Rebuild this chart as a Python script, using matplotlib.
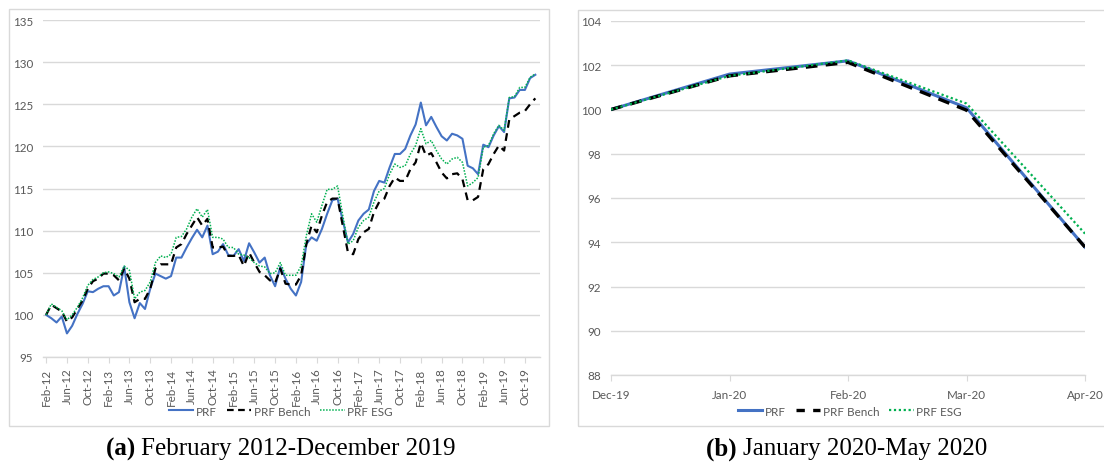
import matplotlib
matplotlib.use("Agg")
import matplotlib.pyplot as plt
from matplotlib.patches import Rectangle
from matplotlib.lines import Line2D

# ---------------- data ----------------
tick_labels_a = ["Feb-12", "Jun-12", "Oct-12", "Feb-13", "Jun-13", "Oct-13", "Feb-14", "Jun-14",
                 "Oct-14", "Feb-15", "Jun-15", "Oct-15", "Feb-16", "Jun-16", "Oct-16", "Feb-17",
                 "Jun-17", "Oct-17", "Feb-18", "Jun-18", "Oct-18", "Feb-19", "Jun-19", "Oct-19"]

prf_a = [100.0, 99.6, 99.1, 99.8, 97.8, 98.7, 100.1, 101.3, 102.8, 102.7, 103.1, 103.4,
         103.4, 102.3, 102.7, 105.7, 101.5, 99.6, 101.4, 100.7, 103.1, 104.9, 104.6, 104.3,
         104.6, 106.8, 106.8, 108.0, 109.1, 110.1, 109.2, 110.6, 107.2, 107.5, 108.4, 107.1,
         107.0, 107.8, 106.4, 108.5, 107.4, 106.2, 106.8, 104.7, 103.4, 105.7, 104.3, 103.1,
         102.3, 103.9, 108.4, 109.2, 108.8, 110.2, 112.0, 113.6, 113.8, 111.2, 108.6, 109.6,
         111.2, 112.0, 112.5, 114.7, 115.9, 115.7, 117.5, 119.1, 119.1, 119.7, 121.3, 122.6,
         125.2, 122.5, 123.5, 122.3, 121.2, 120.7, 121.5, 121.3, 120.9, 117.7, 117.4, 116.7,
         120.2, 119.9, 121.3, 122.4, 121.7, 125.7, 125.8, 126.7, 126.7, 128.1, 128.5]

bench_a = [100.0, 101.2, 100.8, 100.4, 99.2, 99.7, 100.7, 101.7, 103.1, 104.0, 104.3, 104.9,
           104.9, 104.7, 104.1, 105.5, 104.3, 101.5, 101.9, 101.9, 103.1, 105.5, 106.0, 106.0,
           106.0, 108.0, 108.4, 109.6, 110.6, 111.6, 110.6, 111.4, 108.0, 108.0, 108.1, 107.0,
           107.0, 107.1, 105.8, 107.4, 106.2, 105.1, 104.7, 104.1, 103.8, 105.5, 103.7, 103.6,
           103.6, 104.7, 108.4, 110.6, 109.8, 111.8, 113.4, 113.8, 113.8, 110.6, 107.4, 107.2,
           109.0, 109.8, 110.2, 112.2, 113.4, 113.8, 115.3, 116.3, 115.9, 115.9, 117.3, 118.1,
           120.4, 118.9, 119.2, 118.1, 116.9, 116.2, 116.7, 116.8, 116.1, 113.6, 113.6, 114.0,
           117.3, 117.9, 119.1, 120.1, 119.5, 123.2, 123.6, 124.0, 124.2, 125.0, 125.7]

esg_a = [100.0, 101.3, 100.9, 100.5, 99.4, 100.0, 100.9, 102.0, 103.5, 104.2, 104.5, 105.0,
         105.1, 104.9, 104.5, 105.8, 105.3, 101.9, 102.7, 102.9, 103.9, 106.2, 107.0, 106.8,
         107.2, 109.2, 109.3, 110.2, 111.6, 112.6, 111.6, 112.5, 109.2, 109.2, 109.0, 108.0,
         108.0, 107.2, 107.1, 106.8, 106.2, 105.8, 105.7, 104.9, 105.0, 106.2, 104.7, 104.7,
         104.7, 105.8, 109.4, 112.0, 111.0, 113.0, 114.9, 114.9, 115.3, 111.8, 108.4, 108.8,
         110.4, 111.2, 111.6, 113.4, 114.7, 115.0, 116.7, 117.9, 117.5, 117.7, 119.1, 120.1,
         122.1, 120.3, 120.7, 119.5, 118.5, 117.9, 118.5, 118.7, 118.1, 115.3, 115.7, 116.3,
         119.9, 120.1, 121.5, 122.5, 121.9, 125.8, 125.9, 127.0, 127.0, 128.2, 128.6]

months_b = ["Dec-19", "Jan-20", "Feb-20", "Mar-20", "Apr-20"]
prf_b = [100.0, 101.6, 102.2, 100.08, 93.78]
bench_b = [100.0, 101.52, 102.13, 99.97, 93.78]
esg_b = [100.0, 101.52, 102.22, 100.27, 94.39]

series_names = ["PRF", "PRF Bench", "PRF ESG"]
caption_a = ("(a)", "February 2012-December 2019")
caption_b = ("(b)", "January 2020-May 2020")

# ---------------- style ----------------
W, H = 1104, 464
BLUE = "#4472C4"
GREEN = "#00B050"
BLACK = "#000000"
GRID = "#D9D9D9"
TXT = "#595959"
FONT = "Lato"
FS = 8.4

fig = plt.figure(figsize=(W / 100, H / 100), dpi=100)
fig.patch.set_facecolor("white")


def px_axes(x0, y0, x1, y1):
    return fig.add_axes([x0 / W, 1 - y1 / H, (x1 - x0) / W, (y1 - y0) / H])


# panel frames
for (x0, y0, x1, y1) in [(9, 10, 549, 427), (578, 11, 1110, 427)]:
    fig.add_artist(Rectangle((x0 / W, 1 - y1 / H), (x1 - x0) / W, (y1 - y0) / H,
                             transform=fig.transFigure, fill=False,
                             edgecolor=GRID, linewidth=1.0))


def style_axes(ax):
    for s in ["top", "right", "left"]:
        ax.spines[s].set_visible(False)
    ax.spines["bottom"].set_color(GRID)
    ax.spines["bottom"].set_linewidth(1.0)
    ax.yaxis.grid(True, color=GRID, linewidth=1.0)
    ax.set_axisbelow(True)
    ax.tick_params(axis="y", length=0, labelsize=FS, labelcolor=TXT, pad=7)
    ax.tick_params(axis="x", length=4, color=GRID, labelsize=FS, labelcolor=TXT)
    for lab in ax.get_xticklabels() + ax.get_yticklabels():
        lab.set_fontfamily(FONT)


def make_legend(center_x, handles):
    leg = fig.legend(handles=handles, labels=series_names, loc="center",
                     bbox_to_anchor=(center_x / W, 1 - 412 / H),
                     ncol=3, frameon=False, handlelength=2.1, handletextpad=0.25,
                     columnspacing=0.8, prop={"family": FONT, "size": FS})
    for t in leg.get_texts():
        t.set_color(TXT)
    return leg


# ---------------- panel (a) ----------------
axa = px_axes(43, 21, 540, 358)
xa = list(range(len(prf_a)))
axa.plot(xa, prf_a, color=BLUE, lw=1.5, zorder=3)
axa.plot(xa, bench_a, color=BLACK, lw=1.6, ls=(0, (3.5, 2.5)), zorder=4)
axa.plot(xa, esg_a, color=GREEN, lw=1.1, ls=(0, (1, 1)), zorder=5)
axa.set_ylim(95, 135)
axa.set_yticks(range(95, 136, 5))
axa.set_xlim(-0.6, 94.9)
axa.set_xticks(range(0, 4 * len(tick_labels_a), 4))
axa.set_xticklabels(tick_labels_a, rotation=90)
style_axes(axa)
make_legend(281, [Line2D([], [], color=BLUE, lw=1.5),
                  Line2D([], [], color=BLACK, lw=1.6, ls=(0, (3, 2))),
                  Line2D([], [], color=GREEN, lw=1.1, ls=(0, (1, 1)))])

# ---------------- panel (b) ----------------
axb = px_axes(611, 22, 1085, 376)
xb = list(range(len(prf_b)))
axb.plot(xb, prf_b, color=BLUE, lw=2.2, zorder=3)
axb.plot(xb, bench_b, color=BLACK, lw=2.4, ls=(0, (3.5, 2.5)), zorder=4)
axb.plot(xb, esg_b, color=GREEN, lw=1.6, ls=(0, (1, 1.2)), zorder=5)
axb.set_ylim(88, 104)
axb.set_yticks(range(88, 105, 2))
axb.set_xlim(0, len(xb) - 1)
axb.set_xticks(xb)
axb.set_xticklabels(months_b)
style_axes(axb)
axb.tick_params(axis="x", pad=6)
make_legend(850, [Line2D([], [], color=BLUE, lw=2.2),
                  Line2D([], [], color=BLACK, lw=2.4, ls=(0, (2.5, 2.5))),
                  Line2D([], [], color=GREEN, lw=1.6, ls=(0, (1, 1.2)))])

# ---------------- captions ----------------
CAP_FS = 18
for (bold, rest), cx in [(caption_a, 281), (caption_b, 847)]:
    t1 = fig.text(0, 0, bold + " ", fontsize=CAP_FS, family="Liberation Serif", weight="bold")
    t2 = fig.text(0, 0, rest, fontsize=CAP_FS, family="Liberation Serif")
    fig.canvas.draw()
    r = fig.canvas.get_renderer()
    w1 = t1.get_window_extent(r).width
    w2 = t2.get_window_extent(r).width
    x0 = cx - (w1 + w2) / 2
    yb = 1 - 449 / H
    t1.set_position((x0 / W, yb))
    t1.set_va("center")
    t2.set_position(((x0 + w1) / W, yb))
    t2.set_va("center")

fig.savefig("out.png", dpi=100, facecolor="white")
